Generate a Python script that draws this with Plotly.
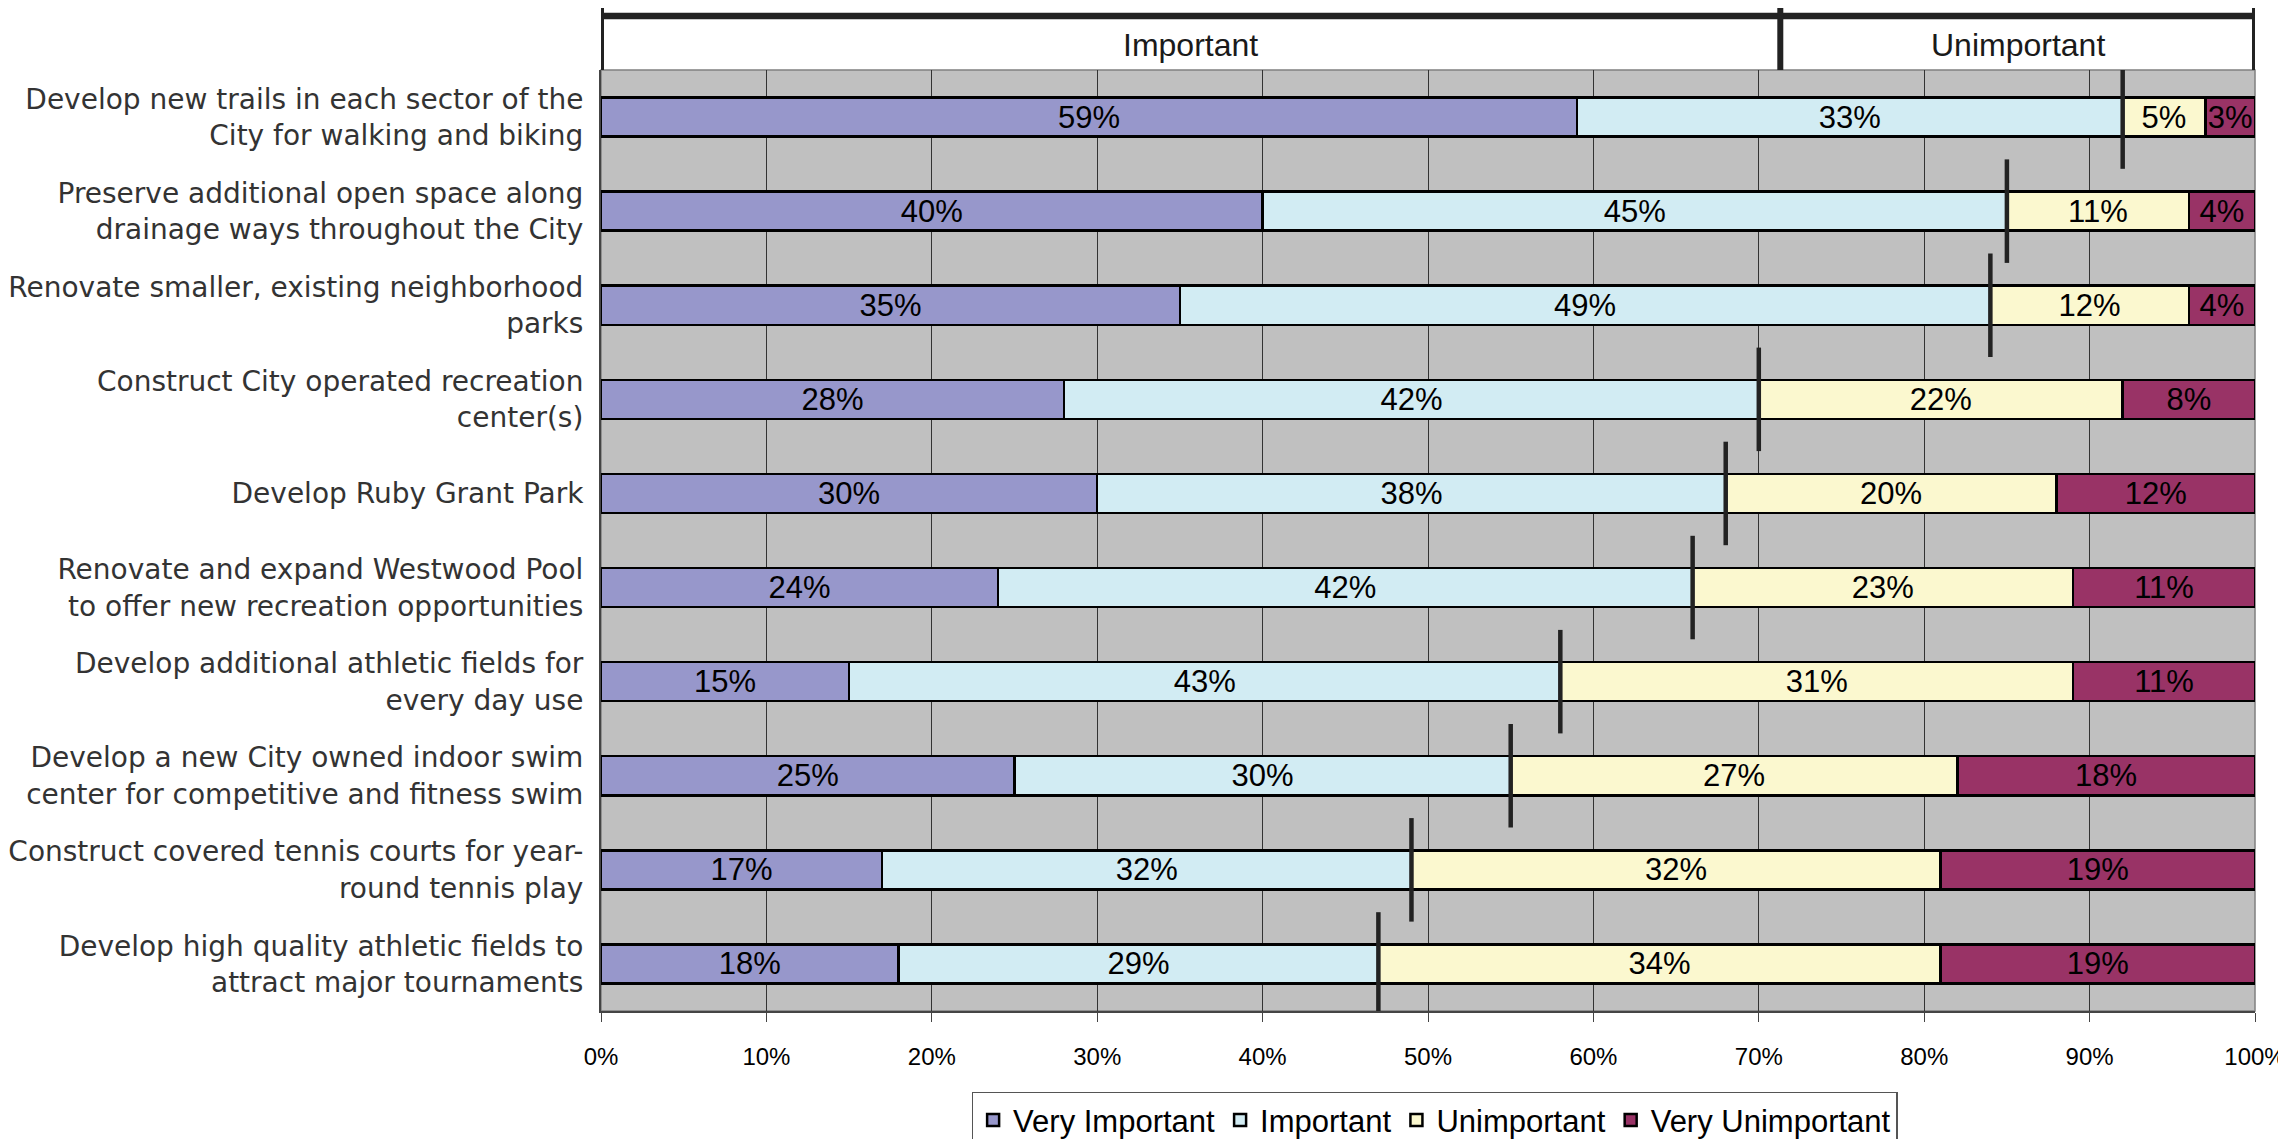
import plotly.graph_objects as go

categories = [
    "Develop new trails in each sector of the<br>City for walking and biking",
    "Preserve additional open space along<br>drainage ways throughout the City",
    "Renovate smaller, existing neighborhood<br>parks",
    "Construct City operated recreation<br>center(s)",
    "Develop Ruby Grant Park",
    "Renovate and expand Westwood Pool<br>to offer new recreation opportunities",
    "Develop additional athletic fields for<br>every day use",
    "Develop a new City owned indoor swim<br>center for competitive and fitness swim",
    "Construct covered tennis courts for year-<br>round tennis play",
    "Develop high quality athletic fields to<br>attract major tournaments",
]
very_important = [59, 40, 35, 28, 30, 24, 15, 25, 17, 18]
important = [33, 45, 49, 42, 38, 42, 43, 30, 32, 29]
unimportant = [5, 11, 12, 22, 20, 23, 31, 27, 32, 34]
very_unimportant = [3, 4, 4, 8, 12, 11, 11, 18, 19, 19]
series_names = ["Very Important", "Important", "Unimportant", "Very Unimportant"]
colors = ["#9797CB", "#D2ECF3", "#FBF8CF", "#993366"]
x_ticks = [0, 10, 20, 30, 40, 50, 60, 70, 80, 90, 100]
header_groups = [("Important", 0, 71.3), ("Unimportant", 71.3, 100)]

NUM_FONT = "Liberation Sans Narrow, Arial Narrow, Liberation Sans, Arial, sans-serif"
CAT_FONT = "Century Gothic, DejaVu Sans, sans-serif"

ypos = list(range(len(categories)))
fig = go.Figure()
for name, vals, col in zip(series_names, [very_important, important, unimportant, very_unimportant], colors):
    fig.add_trace(go.Bar(
        name=name, x=vals, y=ypos, orientation="h",
        marker=dict(color=col, line=dict(color="#000000", width=2.5)),
        text=[f"{v}%" for v in vals], textposition="inside", insidetextanchor="middle",
        textangle=0, textfont=dict(family=NUM_FONT, size=31, color="#000000"),
        hoverinfo="skip",
    ))

# divider lines between Important and Unimportant per row
lx, ly = [], []
for i, (a, b) in enumerate(zip(very_important, important)):
    lx += [a + b, a + b, None]
    ly += [i - 0.55, i + 0.55, None]
fig.add_trace(go.Scatter(x=lx, y=ly, mode="lines", line=dict(color="#222222", width=4.5),
                         showlegend=False, hoverinfo="skip"))

shapes = []
shapes.append(dict(type="rect", xref="paper", yref="paper", x0=0, x1=1, y0=0, y1=1,
                   line=dict(color="#808080", width=1.5), layer="below"))
shapes.append(dict(type="line", xref="x", yref="paper", ysizemode="pixel", yanchor=1,
                   x0=0, x1=100, y0=54, y1=54, line=dict(color="#222222", width=6.5)))
edges = sorted(set([g[1] for g in header_groups] + [g[2] for g in header_groups]))
for e in edges:
    shapes.append(dict(type="line", xref="x", yref="paper", ysizemode="pixel", yanchor=1,
                       x0=e, x1=e, y0=0, y1=67, line=dict(color="#222222", width=6)))
annotations = []
for label, a, b in header_groups:
    annotations.append(dict(text=label, x=(a + b) / 2, xref="x", y=1, yref="paper",
                            yanchor="middle", yshift=25, showarrow=False,
                            font=dict(family="Liberation Sans, Arial, sans-serif",
                                      size=32, color="#1a1a1a")))

# page body adds an 8px offset; figure is sized to compensate
fig.update_layout(
    width=2278, height=1131,
    margin=dict(l=593, r=31, t=62, b=128, autoexpand=False),
    barmode="stack", bargap=0.585,
    plot_bgcolor="#C0C0C0", paper_bgcolor="#FFFFFF",
    shapes=shapes, annotations=annotations,
    uniformtext=dict(minsize=31, mode="show"),
    legend=dict(orientation="h", x=0.504, xanchor="center", y=-0.086, yanchor="top",
                traceorder="normal",
                bordercolor="#555555", borderwidth=1.5, bgcolor="#FFFFFF",
                font=dict(family=NUM_FONT, size=31, color="#000000"),
                itemwidth=30, tracegroupgap=0),
    xaxis=dict(range=[0, 100], tickvals=x_ticks, ticktext=[f"{t}%" for t in x_ticks],
               showgrid=True, gridcolor="#333333", gridwidth=1,
               showline=True, linecolor="#444444", linewidth=2,
               ticks="outside", ticklen=9, tickcolor="#444444",
               tickfont=dict(family=NUM_FONT, size=24, color="#000000"),
               ticklabelstandoff=14, ticklabeloverflow="allow",
               zeroline=False, fixedrange=True),
    yaxis=dict(tickvals=ypos, ticktext=categories, range=[len(categories) - 0.5, -0.5],
               showgrid=False, showline=True, linecolor="#444444", linewidth=2,
               tickfont=dict(family=CAT_FONT, size=28, color="#333333"),
               ticklabelstandoff=10, zeroline=False, fixedrange=True),
)
fig.write_html("out.html")
